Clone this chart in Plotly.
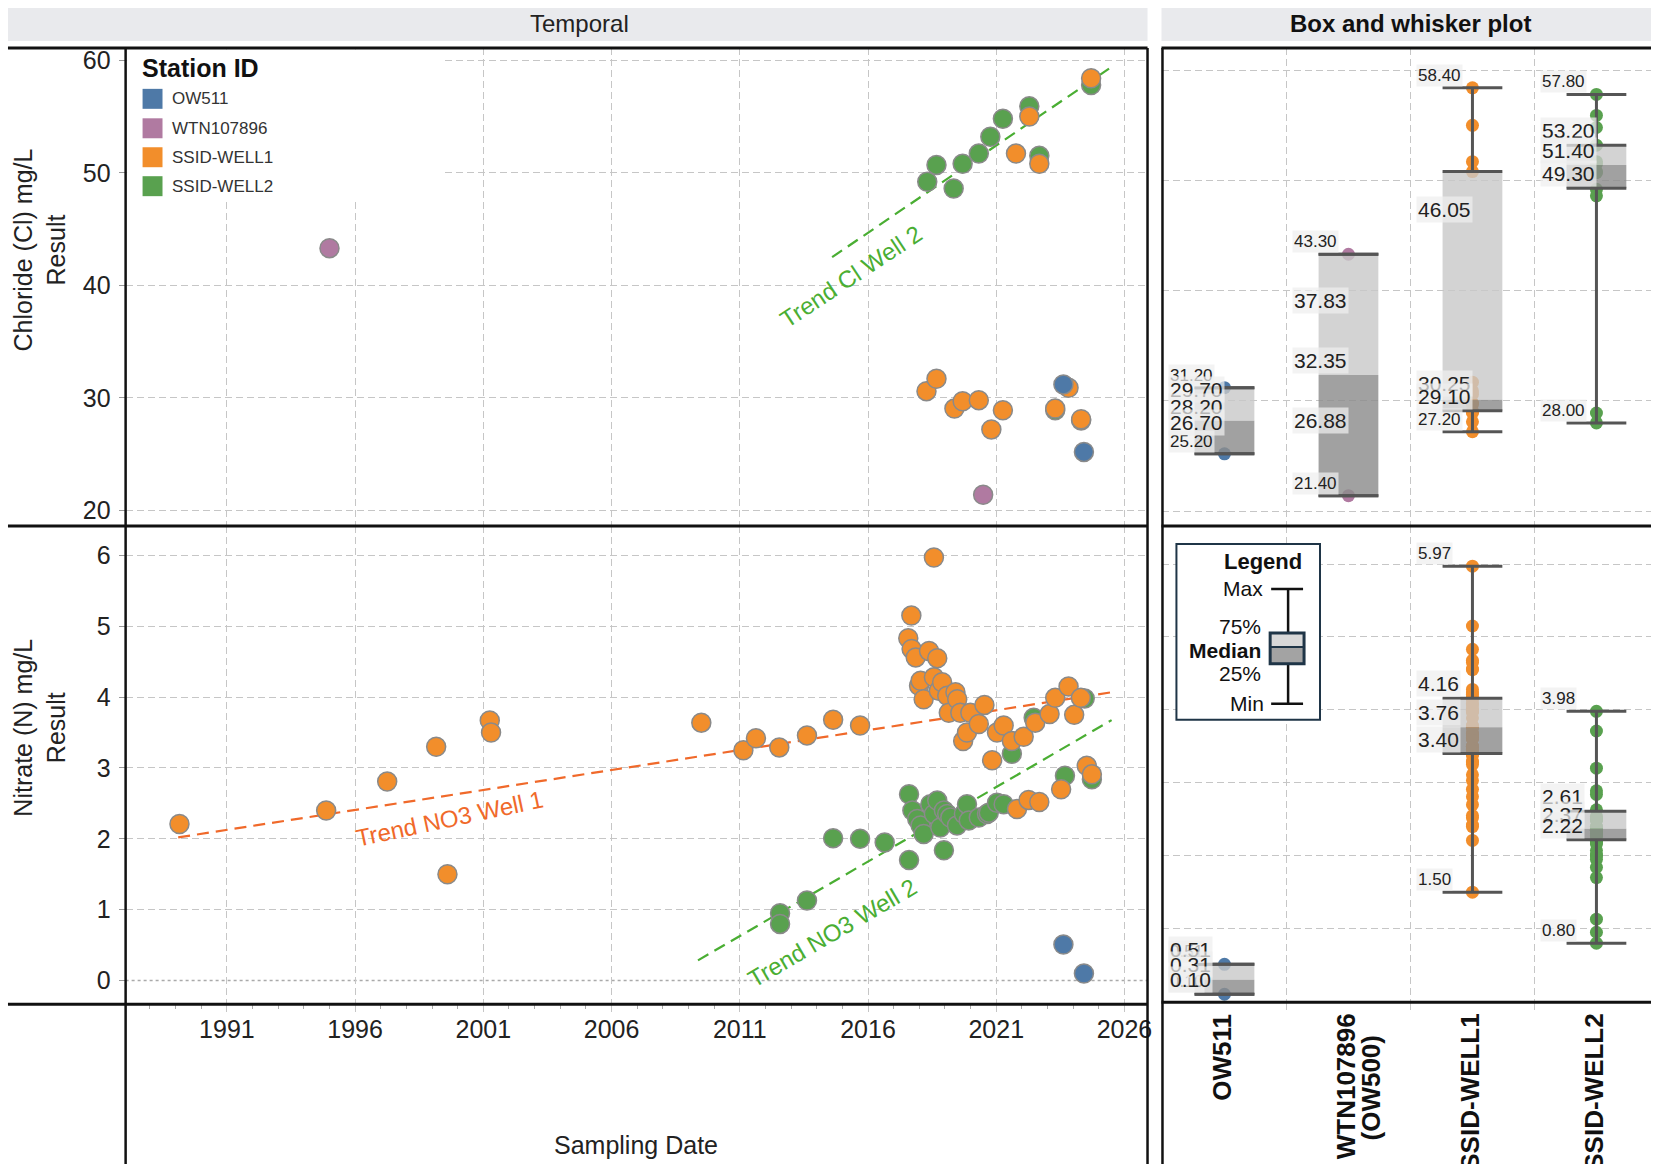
import plotly.graph_objects as go

W, H = 1656, 1164
FONT = "Liberation Sans, Arial, Helvetica, sans-serif"
INK = "#222222"
GRID = "#c6c6c6"
GRIDDASH = "7px,4px"

# ---------------- categories / styling keys ----------------
STATIONS = ["OW511", "WTN107896", "SSID-WELL1", "SSID-WELL2"]
BOX_TICKS = ["OW511", "WTN107896", "SSID-WELL1", "SSID-WELL2"]
BOX_TICKS_SUB = ["", "(OW500)", "", ""]
COLORS = ["#4e79a7", "#b07aa1", "#f28e2b", "#59a14f"]
CL_TICKS = [20, 30, 40, 50, 60]
NO3_TICKS = [0, 1, 2, 3, 4, 5, 6]

# ---------------- Chloride (Cl) mg/L : sampling year, value ----------------
cl_ow511_t = [2023.62, 2024.42]
cl_ow511_v = [31.2, 25.2]
cl_wtn_t = [1995.0, 2020.49]
cl_wtn_v = [43.3, 21.4]
cl_w1_t = [2018.28, 2018.67, 2019.37, 2019.69, 2020.32, 2020.81, 2021.26, 2021.77,
           2022.29, 2022.68, 2023.30, 2023.82, 2024.31, 2024.70]
cl_w1_v = [30.6, 31.7, 29.05, 29.7, 29.8, 27.2, 28.9, 51.7,
           55.0, 50.8, 29.05, 30.9, 28.1, 58.4]
cl_w2_t = [2018.31, 2018.67, 2019.34, 2019.69, 2020.32, 2020.77, 2021.26, 2022.29,
           2022.68, 2023.30, 2024.31, 2024.70]
cl_w2_v = [49.2, 50.7, 48.6, 50.8, 51.7, 53.2, 54.8, 55.9,
           51.5, 28.9, 28.0, 57.8]

# ---------------- Nitrate (N) mg/L : sampling year, value ----------------
no3_ow511_t = [2023.62, 2024.42]
no3_ow511_v = [0.51, 0.10]
no3_wtn_t = []
no3_wtn_v = []
no3_w1_t = [1989.15, 1994.87, 1997.25, 1999.16, 1999.60, 2001.25, 2001.30, 2009.50,
            2011.14, 2011.63, 2012.54, 2013.62, 2014.64, 2015.69, 2017.57, 2017.69,
            2017.70, 2017.86, 2017.99, 2018.05, 2018.17, 2018.38, 2018.57, 2018.57,
            2018.70, 2018.76, 2018.89, 2019.09, 2019.15, 2019.41, 2019.48, 2019.60,
            2019.71, 2019.86, 2019.99, 2020.32, 2020.54, 2020.84, 2021.03, 2021.29,
            2021.61, 2021.81, 2022.07, 2022.26, 2022.52, 2022.68, 2023.08, 2023.30,
            2023.53, 2023.82, 2024.04, 2024.30, 2024.53, 2024.73]
no3_w1_v = [2.21, 2.40, 2.81, 3.30, 1.50, 3.67, 3.50, 3.64,
            3.25, 3.42, 3.29, 3.46, 3.68, 3.60, 4.83, 5.15,
            4.68, 4.56, 4.16, 4.23, 3.97, 4.65, 5.97, 4.28,
            4.55, 4.09, 4.21, 4.02, 3.78, 4.07, 3.97, 3.78,
            3.38, 3.50, 3.78, 3.62, 3.89, 3.11, 3.50, 3.60,
            3.38, 2.42, 3.44, 2.55, 3.64, 2.52, 3.76, 3.99,
            2.70, 4.15, 3.75, 3.99, 3.03, 2.91]
no3_w2_t = [2012.57, 2012.57, 2013.62, 2014.64, 2015.69, 2016.65, 2017.60, 2017.60,
            2017.73, 2017.92, 2018.05, 2018.17, 2018.43, 2018.57, 2018.70, 2018.82,
            2018.96, 2018.96, 2019.09, 2019.21, 2019.47, 2019.74, 2019.86, 2019.93,
            2020.32, 2020.64, 2020.71, 2021.03, 2021.29, 2021.61, 2022.46, 2023.68,
            2024.45, 2024.73]
no3_w2_v = [0.95, 0.80, 1.13, 2.01, 2.00, 1.95, 2.63, 1.70,
            2.40, 2.28, 2.19, 2.07, 2.49, 2.35, 2.54, 2.16,
            1.84, 2.40, 2.35, 2.30, 2.19, 2.35, 2.49, 2.26,
            2.30, 2.35, 2.37, 2.51, 2.49, 3.20, 3.71, 2.89,
            3.98, 2.84]

# ---------------- trend lines (endpoints) ----------------
trend_cl_w2_t = [2014.6, 2025.5]
trend_cl_w2_v = [42.5, 59.4]
trend_no3_w1_t = [1989.1, 2025.44]
trend_no3_w1_v = [2.02, 4.065]
trend_no3_w2_t = [2009.37, 2025.5]
trend_no3_w2_v = [0.286, 3.676]

# ---------------- box statistics as drawn (per station) ----------------
cl_box_min = [25.2, 21.4, 27.2, 28.0]
cl_box_q1 = [25.2, 21.4, 29.1, 49.3]
cl_box_med = [28.2, 32.35, 30.1, 51.4]
cl_box_q3 = [31.2, 43.3, 50.8, 53.2]
cl_box_max = [31.2, 43.3, 58.4, 57.8]

no3_box_min = [0.10, None, 1.50, 0.80]
no3_box_q1 = [0.10, None, 3.40, 2.22]
no3_box_med = [0.30, None, 3.76, 2.37]
no3_box_q3 = [0.51, None, 4.16, 2.61]
no3_box_max = [0.51, None, 5.97, 3.98]

# value labels shown on the box plot
cl_lbl_max = [31.20, 43.30, 58.40, 57.80]
cl_lbl_q3 = [29.70, 37.83, 46.05, 53.20]
cl_lbl_med = [28.20, 32.35, 30.25, 51.40]
cl_lbl_q1 = [26.70, 26.88, 29.10, 49.30]
cl_lbl_min = [25.20, 21.40, 27.20, 28.00]

no3_lbl_max = [0.51, None, 5.97, 3.98]
no3_lbl_q3 = [0.51, None, 4.16, 2.61]
no3_lbl_med = [0.31, None, 3.76, 2.37]
no3_lbl_q1 = [0.10, None, 3.40, 2.22]
no3_lbl_min = [0.10, None, 1.50, 0.80]


def px(x):
    return x / W


def py(y):
    return 1 - y / H


fig = go.Figure()

# ---------------- temporal scatter ----------------
cl_t = [cl_ow511_t, cl_wtn_t, cl_w1_t, cl_w2_t]
cl_v = [cl_ow511_v, cl_wtn_v, cl_w1_v, cl_w2_v]
no3_t = [no3_ow511_t, no3_wtn_t, no3_w1_t, no3_w2_t]
no3_v = [no3_ow511_v, no3_wtn_v, no3_w1_v, no3_w2_v]
draw_order = [3, 2, 0, 1]

trend_green = "#4aae33"
trend_orange = "#f0692a"

fig.add_trace(go.Scatter(x=trend_cl_w2_t, y=trend_cl_w2_v, mode="lines", xaxis="x", yaxis="y",
                         line=dict(color=trend_green, width=2.2, dash="12px,7px"),
                         showlegend=False, hoverinfo="skip"))
fig.add_trace(go.Scatter(x=trend_no3_w1_t, y=trend_no3_w1_v, mode="lines", xaxis="x", yaxis="y2",
                         line=dict(color=trend_orange, width=2.2, dash="12px,7px"),
                         showlegend=False, hoverinfo="skip"))
fig.add_trace(go.Scatter(x=trend_no3_w2_t, y=trend_no3_w2_v, mode="lines", xaxis="x", yaxis="y2",
                         line=dict(color=trend_green, width=2.2, dash="12px,7px"),
                         showlegend=False, hoverinfo="skip"))

for i in draw_order:
    mk = dict(size=19, color=COLORS[i], line=dict(color="#8a8a8a", width=1.5))
    fig.add_trace(go.Scatter(x=cl_t[i], y=cl_v[i], mode="markers", xaxis="x", yaxis="y",
                             marker=mk, name=STATIONS[i], showlegend=False))
for i in draw_order:
    mk = dict(size=19, color=COLORS[i], line=dict(color="#8a8a8a", width=1.5))
    fig.add_trace(go.Scatter(x=no3_t[i], y=no3_v[i], mode="markers", xaxis="x", yaxis="y2",
                             marker=mk, name=STATIONS[i], showlegend=False))

# ---------------- box panel ----------------
HALF = 0.241


def add_box_panel(values, q_lo, q1, med, q3, q_hi, yax):
    for i in range(4):
        if len(values[i]) == 0:
            continue
        fig.add_trace(go.Scatter(x=[i] * len(values[i]), y=values[i], mode="markers",
                                 xaxis="x2", yaxis=yax, showlegend=False,
                                 marker=dict(size=13, color=COLORS[i], line=dict(width=0))))
    lx, ly, dx, dy, hx, hy = [], [], [], [], [], []
    for i in range(4):
        if med[i] is None:
            continue
        a, b = i - HALF, i + HALF
        lx += [a, b, b, a, a, None]
        ly += [med[i], med[i], q3[i], q3[i], med[i], None]
        dx += [a, b, b, a, a, None]
        dy += [q1[i], q1[i], med[i], med[i], q1[i], None]
        for v in (q_lo[i], q1[i], q3[i], q_hi[i]):
            hx += [a, b, None]
            hy += [v, v, None]
        hx += [i, i, None, i, i, None]
        hy += [q_lo[i], q1[i], None, q3[i], q_hi[i], None]
    fig.add_trace(go.Scatter(x=lx, y=ly, mode="lines", fill="toself", xaxis="x2", yaxis=yax,
                             fillcolor="rgba(200,200,200,0.80)", line=dict(width=0),
                             showlegend=False, hoverinfo="skip"))
    fig.add_trace(go.Scatter(x=dx, y=dy, mode="lines", fill="toself", xaxis="x2", yaxis=yax,
                             fillcolor="rgba(140,140,140,0.82)", line=dict(width=0),
                             showlegend=False, hoverinfo="skip"))
    fig.add_trace(go.Scatter(x=hx, y=hy, mode="lines", xaxis="x2", yaxis=yax,
                             line=dict(color="#555555", width=3),
                             showlegend=False, hoverinfo="skip"))


add_box_panel(cl_v, cl_box_min, cl_box_q1, cl_box_med, cl_box_q3, cl_box_max, "y3")
add_box_panel(no3_v, no3_box_min, no3_box_q1, no3_box_med, no3_box_q3, no3_box_max, "y4")

annotations = []


def add_box_labels(lmax, lq3, lmed, lq1, lmin, yref, fmt):
    for i in range(4):
        for vals, size in ((lmax, 17), (lmin, 17), (lq3, 21), (lmed, 21), (lq1, 21)):
            v = vals[i]
            if v is None:
                continue
            annotations.append(dict(
                x=i - 0.452, y=v, xref="x2", yref=yref, xanchor="left", yanchor="bottom",
                text=fmt.format(v), showarrow=False, yshift=1,
                font=dict(family=FONT, size=size, color=INK),
                bgcolor="rgba(238,238,238,0.72)", borderpad=1))


add_box_labels(cl_lbl_max, cl_lbl_q3, cl_lbl_med, cl_lbl_q1, cl_lbl_min, "y3", "{:.2f}")
add_box_labels(no3_lbl_max, no3_lbl_q3, no3_lbl_med, no3_lbl_q1, no3_lbl_min, "y4", "{:.2f}")

# category labels under the box plot (rotated, hanging from the axis)
for i in range(4):
    annotations.append(dict(x=i - 0.02, y=py(1011), xref="x2", yref="paper", xanchor="center",
                            yanchor="top", text="<b>%s</b>" % BOX_TICKS[i], textangle=-90,
                            showarrow=False, font=dict(family=FONT, size=26, color="#111")))
    if BOX_TICKS_SUB[i]:
        annotations.append(dict(x=i + 0.18, y=py(1033), xref="x2", yref="paper",
                                xanchor="center", yanchor="top",
                                text="<b>%s</b>" % BOX_TICKS_SUB[i], textangle=-90,
                                showarrow=False, font=dict(family=FONT, size=26, color="#111")))

# ---------------- trend labels ----------------
annotations += [
    dict(x=2015.33, y=40.78, xref="x", yref="y", text="Trend Cl Well 2", textangle=-33.5,
         showarrow=False, font=dict(family=FONT, size=24, color=trend_green)),
    dict(x=1999.69, y=2.29, xref="x", yref="y2", text="Trend NO3 Well 1", textangle=-12,
         showarrow=False, font=dict(family=FONT, size=24, color=trend_orange)),
    dict(x=2014.62, y=0.673, xref="x", yref="y2", text="Trend NO3 Well 2", textangle=-30.3,
         showarrow=False, font=dict(family=FONT, size=24, color=trend_green)),
]


def paper_text(x, y, text, size, color=INK, xanchor="center", angle=0):
    annotations.append(dict(x=px(x), y=py(y), xref="paper", yref="paper", text=text,
                            showarrow=False, xanchor=xanchor, yanchor="middle",
                            textangle=angle, font=dict(family=FONT, size=size, color=color)))


# ---------------- headers & titles ----------------
paper_text(581, 22, "Temporal", 24)
paper_text(1415, 22, "<b>Box and whisker plot</b>", 24, "#111")
paper_text(40, 248, "Chloride (Cl) mg/L<br>Result", 25, angle=-90)
paper_text(40, 727, "Nitrate (N) mg/L<br>Result", 25, angle=-90)
paper_text(638, 1145, "Sampling Date", 25)

shapes = []
# strip header bands
for x0, x1 in ((8, 1151), (1165, W)):
    shapes.append(dict(type="rect", xref="paper", yref="paper", x0=px(x0), x1=px(x1),
                       y0=py(39), y1=py(6), fillcolor="#e9eaed", line=dict(width=0), layer="below"))

# dotted zero line on nitrate panel (below grid; no gridline at 0)
shapes.append(dict(type="line", xref="paper", yref="y2", x0=px(126), x1=px(1151), y0=0, y1=0,
                   line=dict(color="#aaaaaa", width=1.5, dash="dot"), layer="below"))

# white area behind station legend (hides gridlines)
shapes.append(dict(type="rect", xref="paper", yref="paper", x0=px(127.5), x1=px(446),
                   y0=py(199), y1=py(47.5), fillcolor="white", line=dict(width=0),
                   layer="above"))

# frame lines
for yy in (46, 525):
    shapes.append(dict(type="line", xref="paper", yref="paper", x0=px(8), x1=px(1151),
                       y0=py(yy), y1=py(yy), line=dict(color="#111", width=3)))
    shapes.append(dict(type="line", xref="paper", yref="paper", x0=px(1165), x1=1,
                       y0=py(yy), y1=py(yy), line=dict(color="#111", width=3)))
shapes.append(dict(type="line", xref="paper", yref="paper", x0=px(8), x1=px(1151),
                   y0=py(1004), y1=py(1004), line=dict(color="#111", width=3)))
shapes.append(dict(type="line", xref="paper", yref="paper", x0=px(1165), x1=1,
                   y0=py(1002), y1=py(1002), line=dict(color="#111", width=3)))
for xx in (126, 1151, 1166):
    shapes.append(dict(type="line", xref="paper", yref="paper", x0=px(xx), x1=px(xx),
                       y0=py(46), y1=0, line=dict(color="#111", width=2.5)))

# station legend (manual)
paper_text(140, 66, "<b>Station ID</b>", 25, "#111", xanchor="left")
for k, yc in enumerate((97, 126.5, 155.5, 184.5)):
    shapes.append(dict(type="rect", xref="paper", yref="paper", x0=px(143), x1=px(163),
                       y0=py(yc + 10), y1=py(yc - 10), fillcolor=COLORS[k],
                       line=dict(width=0)))
    paper_text(171, yc, STATIONS[k], 17, "#333", xanchor="left")

# box-plot key (manual)
NAVY = "#1f3547"
shapes.append(dict(type="rect", xref="paper", yref="paper", x0=px(1180), x1=px(1324),
                   y0=py(719), y1=py(543), fillcolor="white", line=dict(color=NAVY, width=2)))
shapes.append(dict(type="line", xref="paper", yref="paper", x0=px(1292), x1=px(1292),
                   y0=py(703), y1=py(588), line=dict(color="#111", width=2.5)))
for yy in (588, 703):
    shapes.append(dict(type="line", xref="paper", yref="paper", x0=px(1275), x1=px(1307),
                       y0=py(yy), y1=py(yy), line=dict(color="#111", width=2.5)))
shapes.append(dict(type="rect", xref="paper", yref="paper", x0=px(1274), x1=px(1308),
                   y0=py(646), y1=py(632), fillcolor="#d8d8d8", line=dict(width=0)))
shapes.append(dict(type="rect", xref="paper", yref="paper", x0=px(1274), x1=px(1308),
                   y0=py(663), y1=py(646), fillcolor="#a3a3a3", line=dict(width=0)))
shapes.append(dict(type="rect", xref="paper", yref="paper", x0=px(1274), x1=px(1308),
                   y0=py(663), y1=py(632), line=dict(color=NAVY, width=3)))
shapes.append(dict(type="line", xref="paper", yref="paper", x0=px(1274), x1=px(1308),
                   y0=py(646), y1=py(646), line=dict(color=NAVY, width=2)))
for txt, xr, yc, size in (("<b>Legend</b>", 1308, 560, 22), ("Max", 1269, 588, 21),
                          ("75%", 1267, 626, 21), ("<b>Median</b>", 1267, 650, 21),
                          ("25%", 1267, 673, 21), ("Min", 1270, 703, 21)):
    paper_text(xr, yc, txt, size, "#111", xanchor="right")

# ---------------- axes ----------------
grid_common = dict(showgrid=True, gridcolor=GRID, griddash=GRIDDASH, gridwidth=1.2,
                   zeroline=False, showline=False)

fig.update_layout(
    width=W, height=H,
    margin=dict(l=0, r=0, t=0, b=0),
    paper_bgcolor="white", plot_bgcolor="white",
    font=dict(family=FONT, color=INK),
    showlegend=False,
    xaxis=dict(domain=[px(126), px(1151)], range=[1987.05, 2026.9], anchor="y2",
               tickmode="linear", tick0=1991, dtick=5,
               ticks="outside", ticklen=7, tickcolor=GRID, tickwidth=1.2,
               tickfont=dict(size=25, color=INK), ticklabelstandoff=-4,
               minor=dict(dtick=1, tick0=1991, ticks="outside", ticklen=4,
                          tickcolor="#aaaaaa", showgrid=False),
               **grid_common),
    yaxis=dict(domain=[py(525), py(46)], range=[18.61, 61.09], anchor="x",
               tickmode="array", tickvals=CL_TICKS, ticks="outside", ticklen=6,
               tickcolor="#999999", tickfont=dict(size=25, color=INK), ticklabelstandoff=3,
               **grid_common),
    yaxis2=dict(domain=[py(1004), py(525)], range=[-0.334, 6.413], anchor="x",
                tickmode="array", tickvals=NO3_TICKS, ticks="outside", ticklen=6,
                tickcolor="#999999", tickfont=dict(size=25, color=INK), ticklabelstandoff=3,
                showgrid=False, zeroline=False, showline=False,
                minor=dict(tickvals=NO3_TICKS[1:], showgrid=True, gridcolor=GRID,
                           griddash=GRIDDASH, gridwidth=1.2, ticks="")),
    xaxis2=dict(domain=[px(1166), 1], range=[-0.5, 3.44], anchor="y4",
                tickmode="array", tickvals=[0, 1, 2, 3], showticklabels=False,
                ticks="", showgrid=False, zeroline=False, showline=False,
                minor=dict(tickvals=[0.5, 1.5, 2.5], showgrid=True, gridcolor=GRID,
                           griddash=GRIDDASH, gridwidth=1.2, ticks="outside", ticklen=7,
                           tickcolor=GRID)),
    yaxis3=dict(domain=[py(525), py(46)], range=[18.64, 62.02], anchor="x2",
                tickmode="array", tickvals=CL_TICKS, showticklabels=False, ticks="",
                **grid_common),
    yaxis4=dict(domain=[py(1002), py(525)], range=[-0.01, 6.52], anchor="x2",
                tickmode="array", tickvals=NO3_TICKS[1:], showticklabels=False, ticks="",
                **grid_common),
    shapes=shapes,
    annotations=annotations,
)

fig.write_html("out.html", config={"displayModeBar": False},
               post_script="document.body.style.margin='0';document.body.style.overflow='hidden';")
